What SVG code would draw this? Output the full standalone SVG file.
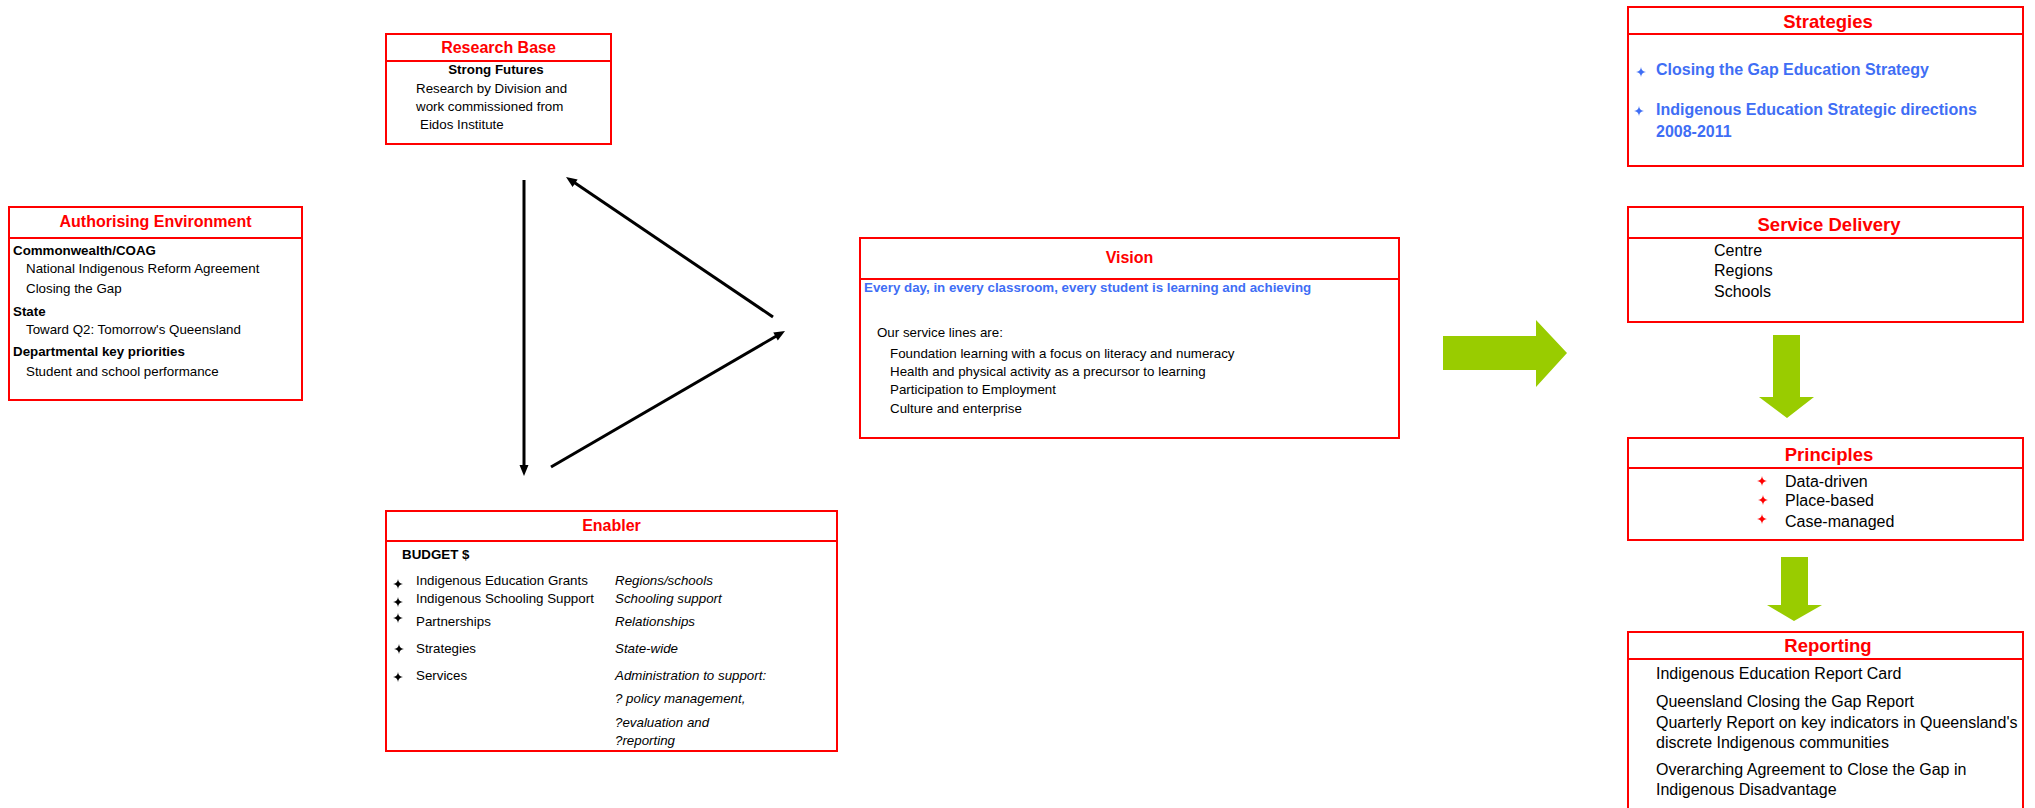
<svg xmlns="http://www.w3.org/2000/svg" xmlns:xlink="http://www.w3.org/1999/xlink" width="2035" height="808" viewBox="0 0 2035 808">
<style>
text{font-family:"Liberation Sans",Arial,sans-serif;}
.box{fill:#fff;stroke:#ff0000;stroke-width:2;}
.sep{stroke:#ff0000;stroke-width:2;}
.ttl{font-size:16px;font-weight:bold;fill:#ff0000;text-anchor:middle;}
.ttl2{font-size:18.5px;font-weight:bold;fill:#ff0000;text-anchor:middle;}
.t{font-size:13.33px;fill:#000;}
.tb{font-size:13.33px;font-weight:bold;fill:#000;}
.ti{font-size:13.33px;font-style:italic;fill:#000;}
.t16{font-size:16px;fill:#000;}
.blue{font-size:16px;font-weight:bold;fill:#3f6ef5;}
.blue13{font-size:13.33px;font-weight:bold;fill:#3f6ef5;}
.conn{stroke:#000;stroke-width:3;fill:none;marker-end:url(#ah);}
.green{fill:#99cc00;}
</style>
<defs>
<marker id="ah" markerUnits="userSpaceOnUse" markerWidth="14" markerHeight="12" viewBox="0 -6 13 12" refX="1" refY="0" orient="auto">
<path d="M0,-4.5 L11,0 L0,4.5 Z" fill="#000"/>
</marker>
<path id="star" d="M0,-5 Q0.4,-0.4 5,0 Q0.4,0.4 0,5 Q-0.4,0.4 -5,0 Q-0.4,-0.4 0,-5 Z"/>
</defs>

<g id="authorising-environment">
<rect class="box" x="9" y="207" width="293" height="193"/>
<line class="sep" x1="9" y1="238" x2="302" y2="238"/>
<text class="ttl" x="155.5" y="227">Authorising Environment</text>
<text class="tb" x="13" y="255">Commonwealth/COAG</text>
<text class="t" x="26" y="273">National Indigenous Reform Agreement</text>
<text class="t" x="26" y="293">Closing the Gap</text>
<text class="tb" x="13" y="316">State</text>
<text class="t" x="26" y="334">Toward Q2: Tomorrow's Queensland</text>
<text class="tb" x="13" y="356">Departmental key priorities</text>
<text class="t" x="26" y="376">Student and school performance</text>
</g>

<g id="research-base">
<rect class="box" x="386" y="34" width="225" height="110"/>
<line class="sep" x1="386" y1="61" x2="611" y2="61"/>
<text class="ttl" x="498.5" y="53">Research Base</text>
<text class="tb" x="496" y="74" text-anchor="middle">Strong Futures</text>
<text class="t" x="416" y="93">Research by Division and</text>
<text class="t" x="416" y="111">work commissioned from</text>
<text class="t" x="420" y="129">Eidos Institute</text>
</g>

<g id="enabler">
<rect class="box" x="386" y="511" width="451" height="240"/>
<line class="sep" x1="386" y1="541" x2="837" y2="541"/>
<text class="ttl" x="611.5" y="531">Enabler</text>
<text class="tb" x="402" y="559">BUDGET $</text>
<g fill="#000">
<use xlink:href="#star" x="398" y="584"/>
<use xlink:href="#star" x="398" y="602"/>
<use xlink:href="#star" x="398" y="618"/>
<use xlink:href="#star" x="399" y="649"/>
<use xlink:href="#star" x="398" y="677"/>
</g>
<text class="t" x="416" y="585">Indigenous Education Grants</text>
<text class="t" x="416" y="603">Indigenous Schooling Support</text>
<text class="t" x="416" y="626">Partnerships</text>
<text class="t" x="416" y="653">Strategies</text>
<text class="t" x="416" y="680">Services</text>
<text class="ti" x="615" y="585">Regions/schools</text>
<text class="ti" x="615" y="603">Schooling support</text>
<text class="ti" x="615" y="626">Relationships</text>
<text class="ti" x="615" y="653">State-wide</text>
<text class="ti" x="615" y="680">Administration to support:</text>
<text class="ti" x="615" y="703">? policy management,</text>
<text class="ti" x="615" y="727">?evaluation and</text>
<text class="ti" x="615" y="745">?reporting</text>
</g>

<g id="vision">
<rect class="box" x="860" y="238" width="539" height="200"/>
<line class="sep" x1="860" y1="279" x2="1399" y2="279"/>
<text class="ttl" x="1129.5" y="263">Vision</text>
<text class="blue13" x="864" y="292">Every day, in every classroom, every student is learning and achieving</text>
<text class="t" x="877" y="337">Our service lines are:</text>
<text class="t" x="890" y="358">Foundation learning with a focus on literacy and numeracy</text>
<text class="t" x="890" y="376">Health and physical activity as a precursor to learning</text>
<text class="t" x="890" y="394">Participation to Employment</text>
<text class="t" x="890" y="413">Culture and enterprise</text>
</g>

<g id="strategies">
<rect class="box" x="1628" y="7" width="395" height="159"/>
<line class="sep" x1="1628" y1="34" x2="2023" y2="34"/>
<text class="ttl2" x="1828" y="28">Strategies</text>
<g fill="#3f6ef5">
<use xlink:href="#star" x="1641" y="72"/>
<use xlink:href="#star" x="1639" y="111"/>
</g>
<text class="blue" x="1656" y="75">Closing the Gap Education Strategy</text>
<text class="blue" x="1656" y="115">Indigenous Education Strategic directions</text>
<text class="blue" x="1656" y="137">2008-2011</text>
</g>

<g id="service-delivery">
<rect class="box" x="1628" y="207" width="395" height="115"/>
<line class="sep" x1="1628" y1="238" x2="2023" y2="238"/>
<text class="ttl2" x="1829" y="231">Service Delivery</text>
<text class="t16" x="1714" y="256">Centre</text>
<text class="t16" x="1714" y="276">Regions</text>
<text class="t16" x="1714" y="297">Schools</text>
</g>

<g id="principles">
<rect class="box" x="1628" y="438" width="395" height="102"/>
<line class="sep" x1="1628" y1="468" x2="2023" y2="468"/>
<text class="ttl2" x="1829" y="461">Principles</text>
<g fill="#ff0000">
<use xlink:href="#star" x="1762" y="481"/>
<use xlink:href="#star" x="1763" y="500"/>
<use xlink:href="#star" x="1762" y="519"/>
</g>
<text class="t16" x="1785" y="487">Data-driven</text>
<text class="t16" x="1785" y="506">Place-based</text>
<text class="t16" x="1785" y="527">Case-managed</text>
</g>

<g id="reporting">
<rect class="box" x="1628" y="632" width="395" height="200"/>
<line class="sep" x1="1628" y1="659" x2="2023" y2="659"/>
<text class="ttl2" x="1828" y="652">Reporting</text>
<text class="t16" x="1656" y="679">Indigenous Education Report Card</text>
<text class="t16" x="1656" y="707">Queensland Closing the Gap Report</text>
<text class="t16" x="1656" y="728">Quarterly Report on key indicators in Queensland's</text>
<text class="t16" x="1656" y="748">discrete Indigenous communities</text>
<text class="t16" x="1656" y="775">Overarching Agreement to Close the Gap in</text>
<text class="t16" x="1656" y="795">Indigenous Disadvantage</text>
</g>

<g id="connectors">
<line class="conn" x1="524" y1="180" x2="524" y2="466"/>
<line class="conn" x1="773" y1="317" x2="574.3" y2="182.6"/>
<line class="conn" x1="551" y1="467" x2="776.4" y2="336"/>
<polygon class="green" points="1443,336 1536,336 1536,320 1567,353 1536,387 1536,370 1443,370"/>
<polygon class="green" points="1773,335 1800,335 1800,397 1814,397 1787,418 1759,397 1773,397"/>
<polygon class="green" points="1781,557 1808,557 1808,605 1822,605 1794,621 1767,605 1781,605"/>
</g>
</svg>
